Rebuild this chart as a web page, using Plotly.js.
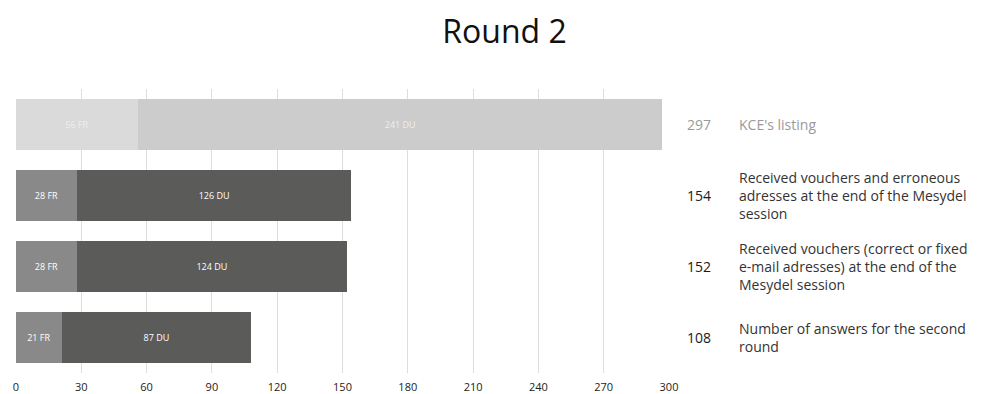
<!DOCTYPE html>
<html><head><meta charset="utf-8">
<script src="https://cdn.plot.ly/plotly-3.0.1.min.js"></script>
<style>body{margin:0;background:#fff}#chart{width:997px;height:394px}</style>
</head><body><div id="chart"></div>
<script>
const categories = ["KCE's listing", "Received vouchers and erroneous", "Received vouchers (correct or fixed)", "Number of answers"];
const frValues = [56, 28, 28, 21];
const duValues = [241, 126, 124, 87];
const totals = [297, 154, 152, 108];
const descriptions = [
  "KCE's listing",
  "Received vouchers and erroneous<br>adresses at the end of the Mesydel<br>session",
  "Received vouchers (correct or fixed<br>e-mail adresses) at the end of the<br>Mesydel session",
  "Number of answers for the second<br>round"
];
const xTicks = [0, 30, 60, 90, 120, 150, 180, 210, 240, 270, 300];

const font = "'Open Sans', Lato, sans-serif";
const frColors = ['#dadada', '#898989', '#898989', '#898989'];
const duColors = ['#cccccc', '#5b5b59', '#5b5b59', '#5b5b59'];
const barText = ['#eeeeee', '#ffffff', '#ffffff', '#ffffff'];

const traces = [
  {type: 'bar', orientation: 'h', y: categories, x: frValues,
   text: frValues.map(v => v + ' FR'), textposition: 'inside', insidetextanchor: 'middle',
   textfont: {family: font, size: 9, color: barText}, marker: {color: frColors},
   width: 0.72, hoverinfo: 'none'},
  {type: 'bar', orientation: 'h', y: categories, x: duValues,
   text: duValues.map(v => v + ' DU'), textposition: 'inside', insidetextanchor: 'middle',
   textfont: {family: font, size: 9, color: barText}, marker: {color: duColors},
   width: 0.72, hoverinfo: 'none'}
];

const annotations = [];
categories.forEach((c, i) => {
  const grey = i === 0;
  annotations.push({xref: 'paper', yref: 'y', x: 1.0245, y: c, xanchor: 'left', yanchor: 'middle',
    text: String(totals[i]), showarrow: false, font: {family: font, size: 14, color: grey ? '#9a9a9a' : '#1a1a1a'}});
  annotations.push({xref: 'paper', yref: 'y', x: 1.104, y: c, xanchor: 'left', yanchor: 'middle', align: 'left',
    text: descriptions[i], showarrow: false, font: {family: font, size: 14, color: grey ? '#9a9a9a' : '#333333'}});
});

const layout = {
  width: 997, height: 394,
  margin: {l: 16, r: 328, t: 89, b: 21},
  paper_bgcolor: '#ffffff', plot_bgcolor: '#ffffff',
  barmode: 'stack', showlegend: false,
  title: {text: 'Round 2', x: 0.506, xref: 'container', xanchor: 'center', y: 0.92, yref: 'container', yanchor: 'middle',
    font: {family: font, size: 32, color: '#111111'}},
  xaxis: {range: [0, 300], tickvals: xTicks, ticktext: xTicks.map(String), showgrid: true,
    gridcolor: '#dddddd', gridwidth: 1, zeroline: false, showline: false, ticks: '',
    ticklabelstandoff: 6,
    tickfont: {family: font, size: 11, color: '#222222'}, fixedrange: true, automargin: false},
  yaxis: {type: 'category', categoryarray: categories, autorange: 'reversed', showticklabels: false,
    showgrid: false, zeroline: false, showline: false, ticks: '', fixedrange: true, automargin: false},
  annotations: annotations
};
Plotly.newPlot('chart', traces, layout, {displayModeBar: false, staticPlot: true});
</script></body></html>
